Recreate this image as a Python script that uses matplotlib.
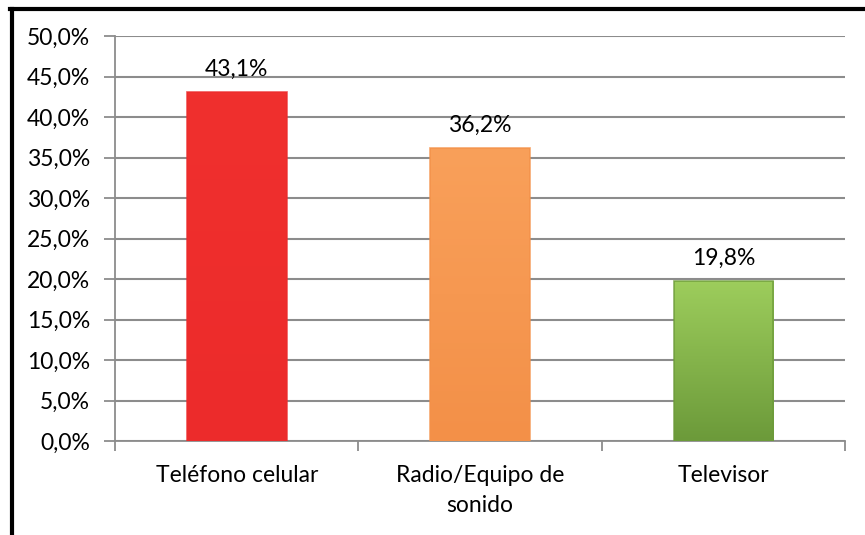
import matplotlib.pyplot as plt
import numpy as np
from matplotlib.colors import LinearSegmentedColormap
from matplotlib.lines import Line2D

categorias = ['Teléfono celular', 'Radio/Equipo de\nsonido', 'Televisor']
valores = [43.1, 36.2, 19.8]
etiquetas = ['43,1%', '36,2%', '19,8%']
# color superior / inferior de cada barra
colores = [('#F0302E', '#EC2B2B'), ('#F9A05A', '#F39048'), ('#9DCD5C', '#6C9A3A')]

plt.rcParams['font.family'] = ['Lato', 'DejaVu Sans']
fs = 16.5

fig = plt.figure(figsize=(8.65, 5.35), dpi=100)
ax = fig.add_axes([0.133, 0.1757, 0.844, 0.757])

x = np.arange(len(categorias))
ancho = 0.41
barras = ax.bar(x, valores, width=ancho, color='none', edgecolor='none', zorder=3)

# relleno con degradado vertical y un borde suave
for barra, (c1, c2) in zip(barras, colores):
    x0, y0 = barra.get_x(), barra.get_y()
    w, h = barra.get_width(), barra.get_height()
    cmap = LinearSegmentedColormap.from_list('g', [c2, c1])
    grad = np.linspace(0, 1, 100).reshape(-1, 1)
    img = ax.imshow(grad, extent=[x0, x0 + w, y0, y0 + h], origin='lower',
                    cmap=cmap, aspect='auto', zorder=3)
    img.set_clip_path(barra)
    ax.add_patch(plt.Rectangle((x0, y0), w, h, fill=False,
                               edgecolor=c2, linewidth=1.2, alpha=0.8, zorder=4))

for xi, v, t in zip(x, valores, etiquetas):
    ax.text(xi, v + 1.5, t, ha='center', va='bottom', fontsize=fs, zorder=5)

ax.set_xlim(-0.5, 2.5)
ax.set_ylim(0, 50)
ax.set_yticks(np.arange(0, 50.1, 5))
ax.set_yticklabels([f'{v:.1f}%'.replace('.', ',') for v in np.arange(0, 50.1, 5)])
ax.yaxis.grid(True, color='#8C8C8C', linewidth=1.5, zorder=1)
ax.set_axisbelow(True)

ax.set_xticks(x)
ax.set_xticklabels(categorias, fontsize=fs, linespacing=1.55)
ax.set_xticks([-0.5, 0.5, 1.5, 2.5], minor=True)
ax.tick_params(axis='x', which='major', length=0, pad=17)
ax.tick_params(axis='x', which='minor', length=7, color='#8C8C8C', width=1.3)
ax.tick_params(axis='y', length=8, color='#8C8C8C', width=1.3, labelsize=fs, pad=10)

for lado in ['top', 'right']:
    ax.spines[lado].set_visible(False)
for lado in ['left', 'bottom']:
    ax.spines[lado].set_color('#8C8C8C')
    ax.spines[lado].set_linewidth(1.3)

# marco negro del recuadro
fig.add_artist(Line2D([0.0133, 0.0133], [0.0, 0.9835], color='black', linewidth=3))
fig.add_artist(Line2D([0.0115, 1.0], [0.9835, 0.9835], color='black', linewidth=3))

plt.savefig('out.png', dpi=100)
